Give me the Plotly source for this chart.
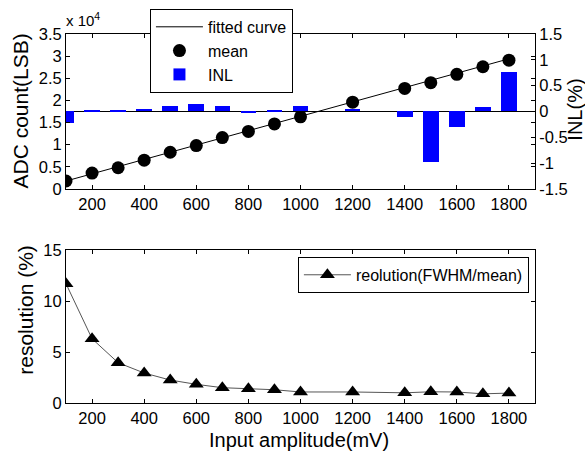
import plotly.graph_objects as go

# ---------------- data ----------------
amplitude_mv = [100, 200, 300, 400, 500, 600, 700, 800, 900, 1000, 1200, 1400, 1500, 1600, 1700, 1800]
mean_adc_1e4 = [0.18, 0.36, 0.48, 0.65, 0.83, 0.98, 1.16, 1.30, 1.47, 1.63, 1.96, 2.27, 2.40, 2.59, 2.76, 2.91]
inl_pct = [-0.23, 0.03, 0.03, 0.05, 0.10, 0.14, 0.10, -0.03, 0.01, 0.10, 0.05, -0.11, -0.97, -0.30, 0.08, 0.77]
resolution_pct = [11.7, 6.3, 3.95, 2.94, 2.25, 1.83, 1.5, 1.4, 1.3, 1.08, 1.08, 1.0, 1.1, 1.08, 0.9, 0.97]
fit_x = [100, 1800]
fit_y_1e4 = [0.18, 2.94]

x_ticks = [200, 400, 600, 800, 1000, 1200, 1400, 1600, 1800]
adc_ticks = [0, 0.5, 1, 1.5, 2, 2.5, 3, 3.5]
adc_ticklabels = ["0", "0.5", "1", "1.5", "2", "2.5", "3", "3.5"]
inl_ticks = [-1.5, -1, -0.5, 0, 0.5, 1, 1.5]
inl_ticklabels = ["-1.5", "-1", "-0.5", "0", "0.5", "1", "1.5"]
res_ticks = [0, 5, 10, 15]

FONT = "Arial, Liberation Sans, sans-serif"
TICK = 16.5

fig = go.Figure()

fig.add_trace(go.Scatter(x=fit_x, y=fit_y_1e4, mode="lines", name="fitted curve",
                         line=dict(color="black", width=1), xaxis="x", yaxis="y",
                         legend="legend"))
fig.add_trace(go.Scatter(x=amplitude_mv, y=mean_adc_1e4, mode="markers", name="mean",
                         marker=dict(color="black", size=13, symbol="circle"),
                         xaxis="x", yaxis="y", legend="legend"))
fig.add_trace(go.Bar(x=amplitude_mv, y=inl_pct, name="INL", width=60,
                     marker=dict(color="#0000ff", line=dict(width=0)),
                     xaxis="x", yaxis="y2", legend="legend"))
fig.add_trace(go.Scatter(x=amplitude_mv, y=resolution_pct, mode="lines+markers",
                         name="reolution(FWHM/mean)",
                         line=dict(color="#555555", width=1),
                         marker=dict(color="black", size=13, symbol="triangle-up"),
                         xaxis="x2", yaxis="y3", legend="legend2"))

axis_common = dict(showline=True, linecolor="black", linewidth=1, ticks="inside",
                   ticklen=4, tickcolor="black", showgrid=False,
                   tickfont=dict(family=FONT, size=TICK, color="black"))

top_dom = [0.58, 1.0]
bot_dom = [0.0, 0.4146]

title_font = dict(family=FONT, size=21, color="black")

fig.update_layout(
    width=585, height=452,
    margin=dict(l=66, r=50, t=34, b=49, autoexpand=False),
    paper_bgcolor="white", plot_bgcolor="white",
    font=dict(family=FONT, size=16, color="black"),
    bargap=0,
    showlegend=True,
    xaxis=dict(domain=[0, 1], range=[100, 1900], tickvals=x_ticks, anchor="y",
               mirror="ticks", zeroline=False, **axis_common),
    yaxis=dict(domain=top_dom, range=[0, 3.5], tickvals=adc_ticks, ticktext=adc_ticklabels,
               anchor="x", mirror="ticks", zeroline=False, **axis_common),
    yaxis2=dict(range=[-1.5, 1.5], tickvals=inl_ticks, ticktext=inl_ticklabels,
                overlaying="y", side="right", anchor="x",
                zeroline=True, zerolinecolor="black", zerolinewidth=1,
                **axis_common),
    xaxis2=dict(domain=[0, 1], range=[100, 1900], tickvals=x_ticks, anchor="y3",
                mirror="ticks", zeroline=False, **axis_common),
    yaxis3=dict(domain=bot_dom, range=[0, 15], tickvals=res_ticks, anchor="x2",
                mirror="ticks", zeroline=False, **axis_common),
    legend=dict(x=0.179, y=1.068, xanchor="left", yanchor="top",
                bgcolor="white", bordercolor="black", borderwidth=1,
                font=dict(family=FONT, size=16), itemwidth=47, tracegroupgap=0),
    legend2=dict(x=0.987, y=0.396, xanchor="right", yanchor="top",
                 bgcolor="white", bordercolor="black", borderwidth=1,
                 font=dict(family=FONT, size=16), itemwidth=47),
    annotations=[
        dict(text="x 10<sup>4</sup>", x=-0.004, y=1.0, xref="paper", yref="paper",
             xanchor="left", yanchor="bottom", yshift=3, showarrow=False,
             font=dict(family=FONT, size=15, color="black")),
        dict(text="ADC count(LSB)", x=-0.098, y=0.79, xref="paper", yref="paper",
             xanchor="center", yanchor="middle", textangle=-90, showarrow=False,
             font=title_font),
        dict(text="INL(%)", x=1.0845, y=0.794, xref="paper", yref="paper",
             xanchor="center", yanchor="middle", textangle=-90, showarrow=False,
             font=dict(family=FONT, size=20, color="black")),
        dict(text="resolution (%)", x=-0.088, y=0.252, xref="paper", yref="paper",
             xanchor="center", yanchor="middle", textangle=-90, showarrow=False,
             font=title_font),
        dict(text="Input amplitude(mV)", x=0.497, y=-0.1003, xref="paper", yref="paper",
             xanchor="center", yanchor="middle", showarrow=False,
             font=dict(family=FONT, size=20, color="black")),
    ],
)

fig.write_html("out.html", config={"displayModeBar": False},
               post_script="document.body.style.margin='0';")
